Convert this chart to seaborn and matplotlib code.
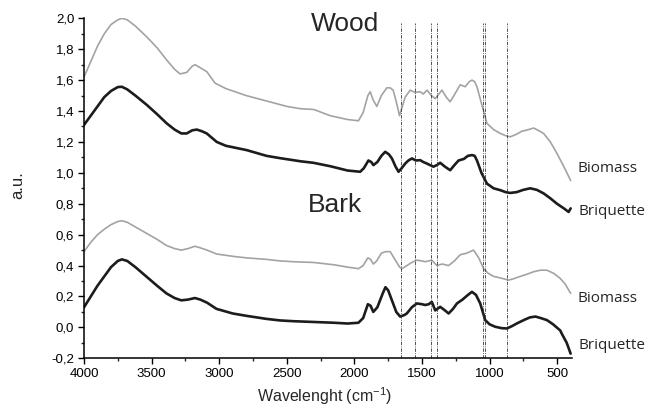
import matplotlib
matplotlib.use("Agg")
import matplotlib.pyplot as plt
import numpy as np
import pandas as pd
import seaborn as sns
from matplotlib.ticker import FuncFormatter, MultipleLocator

# ---- data (wavenumber cm-1, a.u.) ----
wood_bio_w = [4000, 3950, 3900, 3850, 3800, 3750, 3720, 3680, 3620, 3536, 3460, 3388,
              3330, 3289, 3240, 3200, 3178, 3140, 3092, 3030, 2950, 2800, 2650, 2500,
              2400, 2300, 2179, 2050, 1970, 1935, 1900, 1883, 1860, 1834, 1800, 1760,
              1735, 1713, 1690, 1666, 1645, 1624, 1587, 1550, 1513, 1490, 1463, 1430,
              1402, 1375, 1352, 1320, 1291, 1250, 1217, 1180, 1150, 1130, 1110, 1093,
              1060, 1019, 970, 921, 880, 847, 800, 760, 723, 674, 640, 600, 550, 501,
              450, 400]
wood_bio_v = [1.62, 1.72, 1.82, 1.90, 1.96, 1.99, 2.00, 1.99, 1.95, 1.88, 1.81, 1.73,
              1.67, 1.64, 1.65, 1.69, 1.70, 1.68, 1.655, 1.58, 1.545, 1.50, 1.465, 1.43,
              1.415, 1.41, 1.37, 1.345, 1.337, 1.39, 1.50, 1.525, 1.47, 1.43, 1.50, 1.55,
              1.55, 1.535, 1.46, 1.37, 1.43, 1.49, 1.535, 1.52, 1.525, 1.51, 1.535, 1.50,
              1.48, 1.51, 1.535, 1.49, 1.46, 1.52, 1.57, 1.557, 1.59, 1.60, 1.59, 1.557,
              1.45, 1.32, 1.28, 1.255, 1.24, 1.233, 1.25, 1.27, 1.277, 1.29, 1.275, 1.255,
              1.20, 1.125, 1.04, 0.95]

wood_bri_w = [4000, 3950, 3900, 3850, 3800, 3750, 3720, 3680, 3620, 3536, 3460, 3388,
              3330, 3280, 3240, 3200, 3166, 3130, 3092, 3018, 2950, 2796, 2650, 2549,
              2400, 2303, 2179, 2050, 1957, 1930, 1896, 1875, 1859, 1830, 1800, 1772,
              1745, 1722, 1695, 1673, 1650, 1624, 1600, 1574, 1545, 1513, 1490, 1463,
              1440, 1415, 1390, 1365, 1330, 1291, 1260, 1229, 1190, 1160, 1130, 1110,
              1093, 1060, 1019, 970, 921, 880, 847, 800, 750, 699, 650, 600, 550, 501,
              450, 415, 400]
wood_bri_v = [1.31, 1.37, 1.43, 1.49, 1.53, 1.555, 1.557, 1.54, 1.50, 1.44, 1.38, 1.32,
              1.28, 1.255, 1.255, 1.275, 1.28, 1.27, 1.255, 1.20, 1.175, 1.147, 1.11, 1.095,
              1.075, 1.065, 1.043, 1.015, 1.007, 1.03, 1.08, 1.07, 1.05, 1.07, 1.11, 1.136,
              1.12, 1.093, 1.04, 1.007, 1.03, 1.06, 1.08, 1.093, 1.08, 1.082, 1.07, 1.06,
              1.05, 1.04, 1.05, 1.065, 1.04, 1.017, 1.05, 1.08, 1.09, 1.11, 1.115, 1.11,
              1.08, 1.00, 0.93, 0.90, 0.888, 0.875, 0.87, 0.875, 0.89, 0.90, 0.89, 0.867,
              0.835, 0.80, 0.77, 0.747, 0.77]

bark_bio_w = [4000, 3950, 3900, 3850, 3800, 3750, 3720, 3680, 3620, 3540, 3460, 3390,
              3330, 3280, 3230, 3180, 3140, 3090, 3020, 2900, 2800, 2650, 2550, 2450,
              2300, 2150, 2050, 1970, 1935, 1900, 1880, 1860, 1835, 1800, 1770, 1735,
              1700, 1665, 1648, 1612, 1575, 1538, 1500, 1476, 1450, 1427, 1390, 1350,
              1303, 1260, 1217, 1170, 1118, 1080, 1044, 1010, 970, 920, 859, 820, 773,
              720, 674, 625, 575, 526, 477, 440, 400]
bark_bio_v = [0.49, 0.55, 0.60, 0.635, 0.665, 0.685, 0.69, 0.68, 0.65, 0.61, 0.57, 0.53,
              0.51, 0.50, 0.51, 0.525, 0.515, 0.50, 0.475, 0.46, 0.45, 0.44, 0.43, 0.425,
              0.42, 0.405, 0.39, 0.38, 0.40, 0.45, 0.44, 0.41, 0.43, 0.48, 0.49, 0.49,
              0.44, 0.39, 0.38, 0.40, 0.42, 0.435, 0.43, 0.425, 0.43, 0.435, 0.40, 0.41,
              0.40, 0.43, 0.47, 0.48, 0.50, 0.45, 0.38, 0.35, 0.33, 0.32, 0.306, 0.315, 0.33,
              0.345, 0.36, 0.37, 0.37, 0.35, 0.317, 0.28, 0.22]

bark_bri_w = [4000, 3950, 3900, 3850, 3800, 3750, 3720, 3680, 3620, 3540, 3460, 3390,
              3330, 3280, 3230, 3180, 3140, 3090, 3020, 2900, 2800, 2650, 2550, 2450,
              2300, 2150, 2050, 1970, 1935, 1900, 1880, 1860, 1830, 1790, 1770, 1750,
              1720, 1690, 1661, 1630, 1612, 1575, 1538, 1500, 1476, 1450, 1427, 1402,
              1365, 1330, 1303, 1270, 1241, 1200, 1160, 1130, 1100, 1069, 1032, 1000,
              958, 910, 871, 830, 797, 740, 700, 660, 620, 575, 530, 477, 466, 429, 400]
bark_bri_v = [0.13, 0.20, 0.27, 0.33, 0.39, 0.43, 0.44, 0.43, 0.39, 0.33, 0.27, 0.22,
              0.19, 0.175, 0.18, 0.19, 0.18, 0.16, 0.12, 0.09, 0.075, 0.055, 0.045, 0.04,
              0.035, 0.03, 0.025, 0.03, 0.06, 0.15, 0.14, 0.10, 0.13, 0.22, 0.26, 0.24,
              0.17, 0.10, 0.07, 0.08, 0.09, 0.13, 0.155, 0.15, 0.145, 0.15, 0.165, 0.11,
              0.133, 0.11, 0.09, 0.12, 0.155, 0.18, 0.21, 0.23, 0.21, 0.155, 0.047, 0.02,
              0.004, -0.005, -0.007, 0.01, 0.026, 0.05, 0.065, 0.07, 0.06, 0.047, 0.02,
              -0.02, -0.04, -0.10, -0.17]

# band positions marked with dash-dot lines
bands = [1655, 1550, 1433, 1390, 1050, 1030, 872]

GREY = "#a3a3a3"
BLACK = "#1c1c1c"

sns.set_theme(style="ticks")
plt.rcParams["font.family"] = ["Liberation Sans", "DejaVu Sans"]
plt.rcParams["mathtext.default"] = "regular"

fig = plt.figure(figsize=(6.49, 4.11), dpi=100)
ax = fig.add_axes([84 / 649, 1 - 358.3 / 411, 488 / 649, 340 / 411])

curves = [
    (wood_bio_w, wood_bio_v, GREY, 1.2),
    (wood_bri_w, wood_bri_v, BLACK, 1.9),
    (bark_bio_w, bark_bio_v, GREY, 1.2),
    (bark_bri_w, bark_bri_v, BLACK, 1.9),
]
for w, v, col, lw in curves:
    sns.lineplot(x=w, y=v, ax=ax, color=col, lw=lw, sort=False, estimator=None)

ax.vlines(bands, -0.2, 1.97, colors="#333333", linestyles=(0, (4, 1.5, 1, 1.5)), lw=0.6)

ax.set_xlim(4000, 390)
ax.set_ylim(-0.2, 2.0)
ax.xaxis.set_major_locator(MultipleLocator(500))
ax.xaxis.set_minor_locator(MultipleLocator(250))
ax.yaxis.set_major_locator(MultipleLocator(0.2))
ax.yaxis.set_minor_locator(MultipleLocator(0.1))
ax.yaxis.set_major_formatter(FuncFormatter(lambda v, p: f"{v:.1f}".replace(".", ",")))
ax.tick_params(which="major", direction="out", length=4, width=1, labelsize=9.5,
               colors="black", pad=3)
ax.tick_params(which="minor", direction="out", length=2.5, width=1)

sns.despine(ax=ax)
for s in ("left", "bottom"):
    ax.spines[s].set_color("black")
    ax.spines[s].set_linewidth(1.1)

ax.set_xlabel("Wavelenght (cm$^{-1}$)", fontsize=11.5)
ax.set_ylabel("a.u.", fontsize=12)
ax.xaxis.set_label_coords(0.494, -0.078)
ax.yaxis.set_label_coords(-0.12, 0.51)

ax.text(2068, 1.96, "Wood", fontsize=19, ha="center", va="center")
ax.text(2142, 0.79, "Bark", fontsize=19, ha="center", va="center")

side = ["Open Sans", "DejaVu Sans"]
ax.text(346, 1.03, "Biomass", fontsize=11, family=side, ha="left", va="center", clip_on=False)
ax.text(340, 0.75, "Briquette", fontsize=11, family=side, ha="left", va="center", clip_on=False)
ax.text(350, 0.19, "Biomass", fontsize=11, family=side, ha="left", va="center", clip_on=False)
ax.text(340, -0.115, "Briquette", fontsize=11, family=side, ha="left", va="center", clip_on=False)

fig.savefig("out.png", dpi=100)
